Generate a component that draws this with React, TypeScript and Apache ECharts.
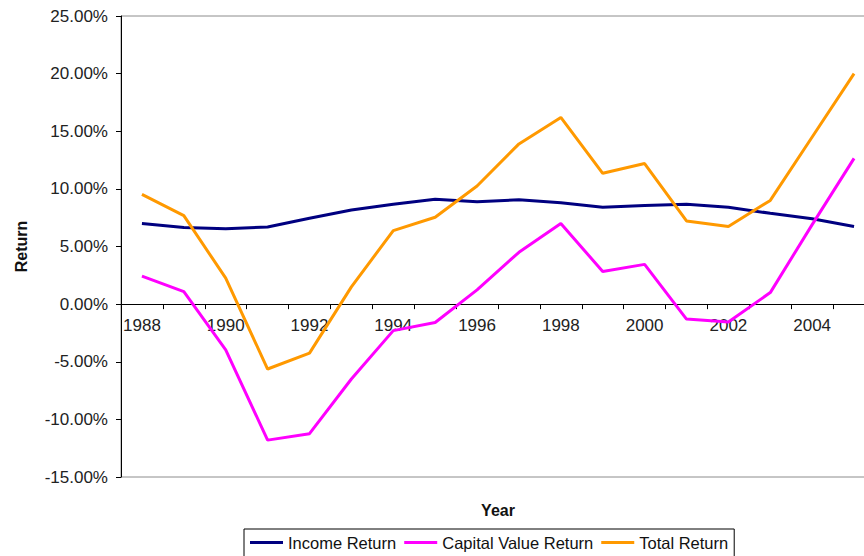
import React, { useEffect, useRef } from "react";
import * as echarts from "echarts";

const years = ["1988","1989","1990","1991","1992","1993","1994","1995","1996","1997","1998","1999","2000","2001","2002","2003","2004","2005"];
const incomeReturn = [7.0, 6.65, 6.55, 6.7, 7.45, 8.17, 8.66, 9.1, 8.88, 9.05, 8.8, 8.4, 8.55, 8.66, 8.4, 7.88, 7.4, 6.73];
const capitalValueReturn = [2.43, 1.09, -3.96, -11.8, -11.24, -6.5, -2.3, -1.59, 1.24, 4.5, 7.0, 2.83, 3.45, -1.3, -1.55, 1.0, 6.9, 12.65];
const totalReturn = [9.53, 7.68, 2.25, -5.63, -4.25, 1.5, 6.38, 7.54, 10.25, 13.9, 16.2, 11.35, 12.2, 7.22, 6.73, 9.0, 14.5, 20.0];
const yTicks = { min: -15, max: 25, interval: 5 };

const FONT = "'Liberation Sans', Arial, sans-serif";
const GRID_TOP = 16;
const GRID_HEIGHT = 461;

export default function App() {
  const ref = useRef<HTMLDivElement>(null);
  useEffect(() => {
    const chart = echarts.init(ref.current!, null, { renderer: "svg" });
    // distance from the grid bottom up to the zero line, derived from the y scale
    const zeroOffset = -GRID_HEIGHT * (0 - yTicks.min) / (yTicks.max - yTicks.min);
    chart.setOption({
      animation: false,
      backgroundColor: "#ffffff",
      textStyle: { fontFamily: FONT },
      grid: {
        left: 121,
        top: GRID_TOP,
        width: 754,
        height: GRID_HEIGHT,
        outerBoundsMode: "none",
        containLabel: false,
        show: true,
        borderColor: "#8c8c8c",
        borderWidth: 1,
        backgroundColor: "transparent",
      },
      legend: {
        left: 244,
        top: 529,
        icon: "rect",
        itemWidth: 33,
        itemHeight: 3,
        itemGap: 8,
        padding: [5, 6, 10, 6],
        borderColor: "#000",
        borderWidth: 1,
        textStyle: { fontFamily: FONT, fontSize: 16.5, color: "#111" },
        data: ["Income Return", "Capital Value Return", "Total Return"],
      },
      xAxis: {
        type: "category",
        data: years,
        boundaryGap: true,
        position: "bottom",
        offset: zeroOffset,
        name: "Year",
        nameLocation: "middle",
        nameGap: 198,
        nameMoveOverlap: false,
        nameTextStyle: { fontFamily: FONT, fontSize: 16, fontWeight: "bold", color: "#111" },
        axisLine: { onZero: false, lineStyle: { color: "#000", width: 1 } },
        axisTick: { show: true, interval: 0, length: 5, lineStyle: { color: "#000" } },
        axisLabel: { interval: 1, margin: 13, fontSize: 17, color: "#222", fontFamily: FONT },
        splitLine: { show: false },
      },
      yAxis: {
        type: "value",
        min: yTicks.min,
        max: yTicks.max,
        interval: yTicks.interval,
        name: "Return",
        nameLocation: "middle",
        nameGap: 92,
        nameRotate: 90,
        nameTextStyle: { fontFamily: FONT, fontSize: 16, fontWeight: "bold", color: "#111" },
        axisLine: { show: true, lineStyle: { color: "#000", width: 1 } },
        axisTick: { show: true, length: 5, lineStyle: { color: "#000" } },
        axisLabel: {
          margin: 13,
          fontSize: 17,
          color: "#222",
          fontFamily: FONT,
          formatter: (v: number) => v.toFixed(2) + "%",
        },
        splitLine: { show: false },
      },
      series: [
        {
          name: "Income Return",
          type: "line",
          data: incomeReturn,
          showSymbol: false,
          lineStyle: { color: "#000080", width: 3 },
          itemStyle: { color: "#000080" },
        },
        {
          name: "Capital Value Return",
          type: "line",
          data: capitalValueReturn,
          showSymbol: false,
          lineStyle: { color: "#ff00ff", width: 3 },
          itemStyle: { color: "#ff00ff" },
        },
        {
          name: "Total Return",
          type: "line",
          data: totalReturn,
          showSymbol: false,
          lineStyle: { color: "#ff9900", width: 3 },
          itemStyle: { color: "#ff9900" },
        },
      ],
    });
    return () => chart.dispose();
  }, []);
  return <div ref={ref} style={{ width: 864, height: 556, position: "absolute", left: 0, top: 0 }} />;
}
